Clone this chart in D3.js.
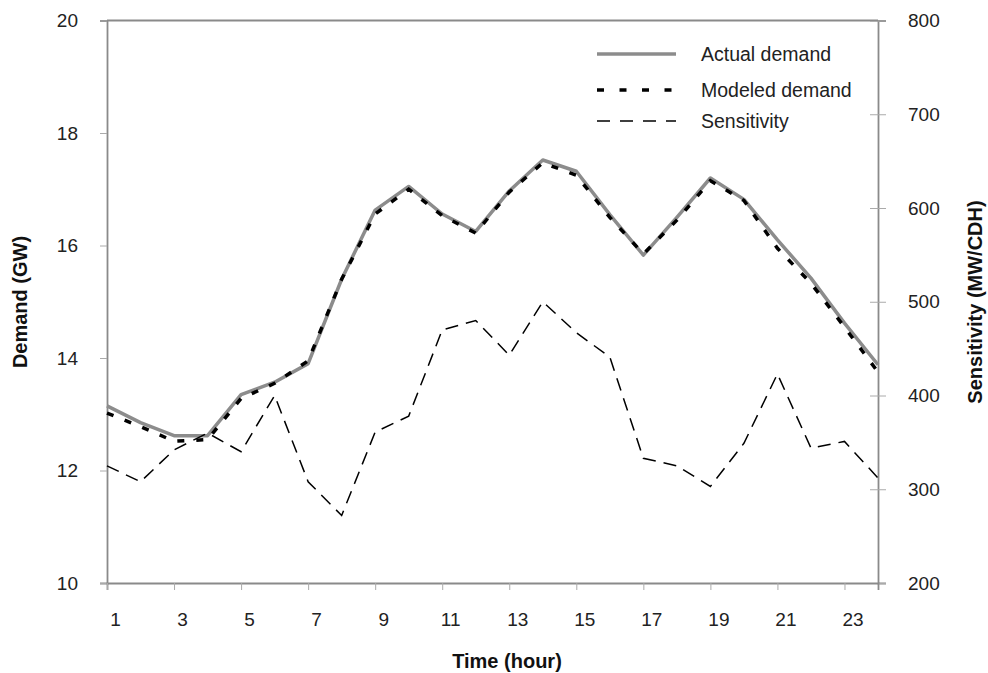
<!DOCTYPE html>
<html>
<head>
<meta charset="utf-8">
<script src="https://cdn.jsdelivr.net/npm/d3@7"></script>
<style>
  html, body { margin: 0; padding: 0; background: #fff; }
  svg { display: block; font-family: "Liberation Sans", Arial, sans-serif; }
</style>
</head>
<body>
<div id="chart"></div>
<script>
// ── Data ──────────────────────────────────────────────────────────────────────
var hours       = d3.range(1, 25);
var actual      = [13.15, 12.85, 12.62, 12.62, 13.35, 13.57, 13.9, 15.4, 16.63, 17.05, 16.56, 16.25,
                   16.97, 17.52, 17.32, 16.55, 15.83, 16.5, 17.2, 16.82, 16.1, 15.42, 14.62, 13.88];
var modeled     = [13.02, 12.78, 12.52, 12.55, 13.28, 13.55, 13.95, 15.4, 16.56, 17.0, 16.53, 16.22,
                   16.95, 17.47, 17.25, 16.5, 15.85, 16.45, 17.15, 16.8, 15.95, 15.33, 14.55, 13.75];
var sensitivity = [325, 308, 342, 360, 340, 400, 308, 272, 361, 378, 470, 480,
                   443, 500, 467, 441, 333, 325, 303, 349, 423, 344, 351, 312];
var xTicks      = [1, 3, 5, 7, 9, 11, 13, 15, 17, 19, 21, 23];
var leftTicks   = [10, 12, 14, 16, 18, 20];
var rightTicks  = [200, 300, 400, 500, 600, 700, 800];
var legendNames = ['Actual demand', 'Modeled demand', 'Sensitivity'];

(function() {

  var W = 988, H = 673;
  var L = 107, R = 878, T = 20.5, B = 583;
  var AXIS = '#8a8a8a', GREY = '#8c8c8c';

  var svg = d3.select('#chart').append('svg')
    .attr('width', W).attr('height', H);

  var x  = d3.scaleLinear().domain([1, 24]).range([L, R]);
  var yL = d3.scaleLinear().domain([10, 20]).range([B, T]);
  var yR = d3.scaleLinear().domain([200, 800]).range([B, T]);

  // ── Axes ────────────────────────────────────────────────────────────────────
  var gl = svg.append('g').attr('transform', 'translate(' + L + ',0)')
    .call(d3.axisLeft(yL).tickValues(leftTicks).tickSize(7).tickPadding(22)
      .tickFormat(d3.format('d')));

  var gr = svg.append('g').attr('transform', 'translate(' + R + ',0)')
    .call(d3.axisRight(yR).tickValues(rightTicks).tickSize(8).tickPadding(22)
      .tickFormat(d3.format('d')));
  gr.selectAll('.tick').append('line').attr('x2', -8);

  var gb = svg.append('g').attr('transform', 'translate(0,' + B + ')')
    .call(d3.axisBottom(x).tickValues(xTicks).tickSize(7).tickPadding(23)
      .tickFormat(d3.format('d')));
  gb.selectAll('.tick text').attr('dx', 8);

  // top border
  svg.append('line').attr('x1', L).attr('x2', R).attr('y1', T).attr('y2', T)
    .attr('stroke', AXIS).attr('stroke-width', 1.8);

  [gl, gr, gb].forEach(function(g) {
    g.selectAll('.domain').attr('stroke', AXIS).attr('stroke-width', 1.8);
    g.selectAll('.tick line').attr('stroke', '#aaa').attr('stroke-width', 1);
    g.selectAll('.tick text').attr('fill', '#222').attr('font-size', '19px')
      .attr('font-family', '"Liberation Sans", Arial, sans-serif');
  });

  // ── Lines ───────────────────────────────────────────────────────────────────
  var lineL = function(vals) {
    return d3.line().x(function(d, i) { return x(hours[i]); })
      .y(function(d) { return yL(d); })(vals);
  };
  var lineR = d3.line().x(function(d, i) { return x(hours[i]); })
    .y(function(d) { return yR(d); });

  svg.append('path').attr('d', lineL(actual))
    .attr('fill', 'none').attr('stroke', GREY).attr('stroke-width', 3.5)
    .attr('stroke-linejoin', 'round');

  svg.append('path').attr('d', lineL(modeled))
    .attr('fill', 'none').attr('stroke', '#000').attr('stroke-width', 3.5)
    .attr('stroke-dasharray', '7,12');

  svg.append('path').attr('d', lineR(sensitivity))
    .attr('fill', 'none').attr('stroke', '#000').attr('stroke-width', 1.5)
    .attr('stroke-dasharray', '13,8');

  // ── Legend ──────────────────────────────────────────────────────────────────
  var legY = [54, 90, 121];
  var legStyle = [
    { stroke: GREY,   w: 3.5, dash: null },
    { stroke: '#000', w: 3.5, dash: '7,15.5' },
    { stroke: '#000', w: 1.5, dash: '13,10' }
  ];
  var leg = svg.append('g');
  legendNames.forEach(function(name, i) {
    leg.append('line').attr('x1', 597).attr('x2', 676)
      .attr('y1', legY[i]).attr('y2', legY[i])
      .attr('stroke', legStyle[i].stroke).attr('stroke-width', legStyle[i].w)
      .attr('stroke-dasharray', legStyle[i].dash);
    leg.append('text').attr('x', 701).attr('y', legY[i])
      .attr('dy', '0.35em').attr('font-size', '19.5px').attr('fill', '#222')
      .text(name);
  });

  // ── Axis titles ─────────────────────────────────────────────────────────────
  svg.append('text').attr('transform', 'translate(27,302) rotate(-90)')
    .attr('text-anchor', 'middle').attr('font-size', '20px').attr('font-weight', 'bold')
    .attr('fill', '#111').text('Demand (GW)');

  svg.append('text').attr('transform', 'translate(982,302) rotate(-90)')
    .attr('text-anchor', 'middle').attr('font-size', '20px').attr('font-weight', 'bold')
    .attr('fill', '#111').text('Sensitivity (MW/CDH)');

  svg.append('text').attr('x', 507).attr('y', 668)
    .attr('text-anchor', 'middle').attr('font-size', '20px').attr('font-weight', 'bold')
    .attr('fill', '#111').text('Time (hour)');

})();
</script>
</body>
</html>
